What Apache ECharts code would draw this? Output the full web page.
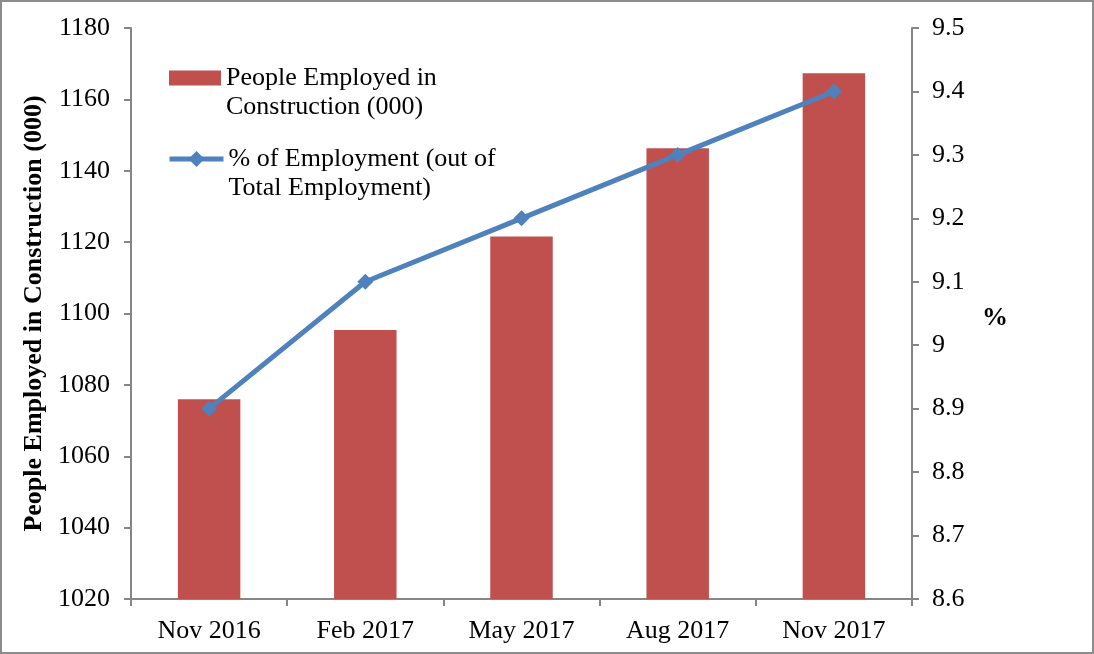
<!DOCTYPE html>
<html>
<head>
<meta charset="utf-8">
<script src="https://cdn.jsdelivr.net/npm/echarts@6/dist/echarts.min.js"></script>
<style>
  html, body { margin: 0; padding: 0; background: #fff; }
  #chart { width: 1094px; height: 654px; box-sizing: border-box; border: 2px solid #8c8c8c; }
</style>
</head>
<body>
<div id="chart"></div>
<script>
const categories = ['Nov 2016', 'Feb 2017', 'May 2017', 'Aug 2017', 'Nov 2017'];
const employed = [1076, 1095.4, 1121.6, 1146.3, 1167.3];
const pctEmployment = [8.9, 9.1, 9.2, 9.3, 9.4];
const barName = 'People Employed in\nConstruction (000)';
const lineName = '% of Employment (out of\nTotal Employment)';

const font = 'Liberation Serif';
const axisGray = '#868686';
const fs = 26;
const lh = 29;

const legendText = { fontFamily: font, fontSize: fs, color: '#000', lineHeight: lh };
// an empty line above the name puts the icon level with the first line
const legendFormatter = name => ' \n' + name;

const chart = echarts.init(document.getElementById('chart'), null, { renderer: 'canvas' });
chart.setOption({
    animation: false,
    grid: { left: 129, right: 180, top: 26, bottom: 53 },
    legend: [
        {
            left: 167, top: 76 - 1.5 * lh, padding: 0,
            itemWidth: 52, itemHeight: 15,
            textStyle: legendText,
            formatter: legendFormatter,
            data: [{ name: barName, icon: 'rect' }]
        },
        {
            left: 165, top: 157 - 1.5 * lh, padding: 0,
            itemWidth: 54, itemHeight: 20,
            lineStyle: { width: 5 },
            textStyle: legendText,
            formatter: legendFormatter,
            data: [{ name: lineName }]
        }
    ],
    xAxis: {
        type: 'category',
        data: categories,
        boundaryGap: true,
        axisLine: { lineStyle: { color: axisGray, width: 2 } },
        axisTick: { show: true, length: 7, lineStyle: { color: axisGray, width: 2 } },
        axisLabel: { fontFamily: font, fontSize: fs, color: '#000', margin: 19 }
    },
    yAxis: [
        {
            type: 'value',
            min: 1020, max: 1180, interval: 20,
            name: 'People Employed in Construction (000)',
            nameLocation: 'middle',
            nameGap: 84,
            nameTextStyle: { fontFamily: font, fontSize: fs, fontWeight: 'bold', color: '#000' },
            axisLine: { show: true, lineStyle: { color: axisGray, width: 2 } },
            axisTick: { show: true, length: 7, lineStyle: { color: axisGray, width: 2 } },
            axisLabel: { fontFamily: font, fontSize: fs, color: '#000', margin: 21, formatter: v => String(v) },
            splitLine: { show: false }
        },
        {
            type: 'value',
            min: 8.6, max: 9.5, interval: 0.1,
            name: '%',
            nameLocation: 'middle',
            nameRotate: 0,
            nameGap: 70,
            nameTextStyle: { fontFamily: font, fontSize: fs, fontWeight: 'bold', color: '#000',
                verticalAlign: 'top', lineHeight: 10 },
            axisLine: { show: true, lineStyle: { color: axisGray, width: 2 } },
            axisTick: { show: true, length: 7, lineStyle: { color: axisGray, width: 2 } },
            axisLabel: { fontFamily: font, fontSize: fs, color: '#000', margin: 20,
                formatter: v => String(Math.round(v * 10) / 10) },
            splitLine: { show: false }
        }
    ],
    series: [
        {
            name: barName,
            type: 'bar',
            data: employed,
            barWidth: '40%',
            itemStyle: { color: '#C0504D' }
        },
        {
            name: lineName,
            type: 'line',
            yAxisIndex: 1,
            data: pctEmployment,
            symbol: 'diamond',
            symbolSize: 16,
            lineStyle: { color: '#4F81BD', width: 5 },
            itemStyle: { color: '#4F81BD' }
        }
    ]
});
</script>
</body>
</html>
